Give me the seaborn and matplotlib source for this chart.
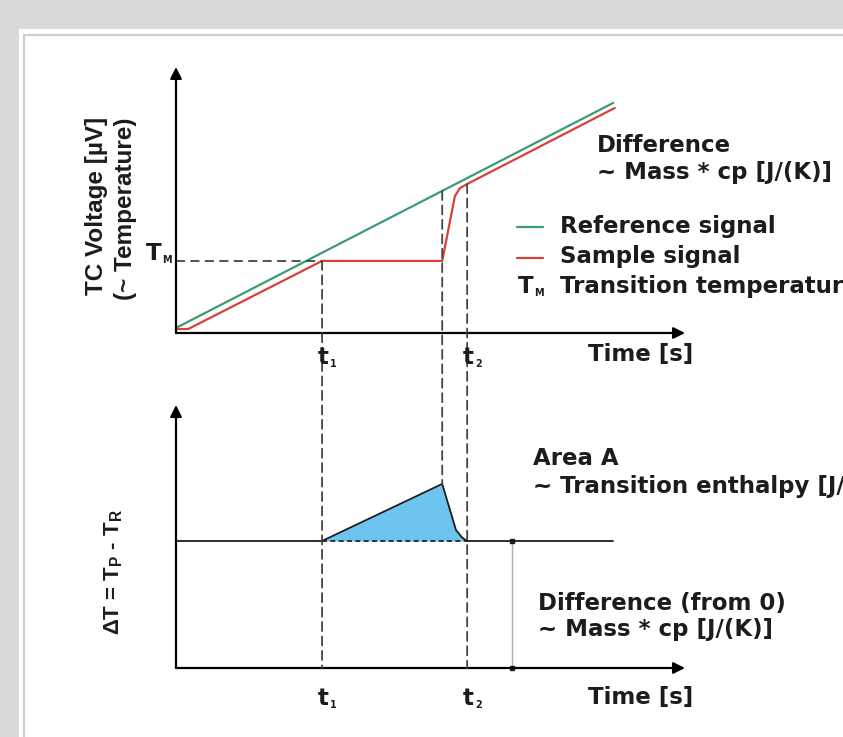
import numpy as np
import pandas as pd
import seaborn as sns
import matplotlib.pyplot as plt
from matplotlib.patches import Rectangle, ConnectionPatch
from matplotlib.lines import Line2D

# --- schematic data (time axis 0..100, signal axis 0..100) ---
ref_time = [0.0, 85.9]
ref_signal = [1.9, 86.5]
sample_time = [0.0, 2.4, 28.7, 52.3, 54.8, 55.8, 57.2, 86.2]
sample_signal = [1.5, 1.5, 27.1, 27.1, 51.5, 54.5, 56.0, 84.6]
T_M = 27.1
t1, t_peak, t2 = 28.7, 52.3, 57.2
ref_at_peak = 53.4
sample_at_t2 = 56.0

dT_time = [28.7, 52.3, 55.0, 56.2, 57.2]
dT_value = [48.3, 70.0, 52.5, 49.6, 48.3]
dT_base = 48.3
base_end = 85.9
diff_arrow_t = 66.0

GREEN = '#3b9b72'
RED = '#d8403a'
BLUE = '#6cc4ef'
INK = '#1c1c1c'
DASH = '#444444'

W, H = 843, 737


def fx(x):
    return x / W


def fy(y):
    return 1 - y / H


sns.set_style("white")
plt.rcParams['font.family'] = ['DejaVu Sans']
plt.rcParams['mathtext.fontset'] = 'custom'
plt.rcParams['mathtext.rm'] = 'Liberation Sans:bold'
plt.rcParams['mathtext.bf'] = 'Liberation Sans:bold'
plt.rcParams['mathtext.it'] = 'Liberation Sans:bold'

fig = plt.figure(figsize=(W / 100, H / 100), dpi=100)
fig.patch.set_facecolor('#d9d9d9')
fig.add_artist(Rectangle((fx(19), 0), 1, fy(29), transform=fig.transFigure,
                         facecolor='white', edgecolor='none', zorder=0))
fig.add_artist(Line2D([fx(23.5), 1], [fy(34.5), fy(34.5)], color='#cfcfcf', lw=1.6))
fig.add_artist(Line2D([fx(23.5), fx(23.5)], [fy(34.5), 0], color='#cfcfcf', lw=1.6))

ax1 = fig.add_axes([fx(176), fy(333), (685 - 176) / W, (333 - 67) / H])
ax2 = fig.add_axes([fx(176), fy(668), (685 - 176) / W, (668 - 405) / H])
for ax in (ax1, ax2):
    ax.set_xlim(0, 100)
    ax.set_ylim(0, 100)
    ax.axis('off')
    ax.patch.set_alpha(0)
    arrow = dict(arrowstyle='-|>', color='black', lw=1.6, mutation_scale=17,
                 shrinkA=0, shrinkB=0)
    ax.annotate('', xy=(100, 0), xytext=(0, 0), arrowprops=arrow, annotation_clip=False)
    ax.annotate('', xy=(0, 100), xytext=(0, 0), arrowprops=arrow, annotation_clip=False)

# top panel: signals
ref_df = pd.DataFrame({'t': ref_time, 'v': ref_signal})
smp_df = pd.DataFrame({'t': sample_time, 'v': sample_signal})
sns.lineplot(data=ref_df, x='t', y='v', ax=ax1, color=GREEN, lw=1.6, sort=False)
sns.lineplot(data=smp_df, x='t', y='v', ax=ax1, color=RED, lw=1.6, sort=False)
ax1.plot([0, t1], [T_M, T_M], ls=(0, (5, 3)), color=DASH, lw=1.3)
ax1.set_xlim(0, 100)
ax1.set_ylim(0, 100)
ax1.axis('off')

# dashed verticals across both panels
for (x, ytop, ybot) in [(t1, T_M, 0), (t_peak, ref_at_peak, dT_value[1]),
                        (t2, sample_at_t2, 0)]:
    con = ConnectionPatch(xyA=(x, ytop), coordsA=ax1.transData,
                          xyB=(x, ybot), coordsB=ax2.transData,
                          ls=(0, (5, 3)), color=DASH, lw=1.3)
    fig.add_artist(con)

# bottom panel: delta T
ax2.fill_between(dT_time, dT_base, dT_value, color=BLUE, lw=0)
ax2.plot(dT_time, dT_value, color=INK, lw=1.3)
ax2.plot([0, t1], [dT_base, dT_base], color=INK, lw=1.3)
ax2.plot([t1, t2], [dT_base, dT_base], color=INK, lw=1.2, ls=(0, (3, 2)))
ax2.plot([t2, base_end], [dT_base, dT_base], color=INK, lw=1.3)
ax2.plot([diff_arrow_t, diff_arrow_t], [0, dT_base], color='#b0b0b0', lw=1.0,
         marker='s', ms=3, mfc=INK, mec=INK, clip_on=False)

FS = 16.5
TK = dict(color=INK, fontweight='bold')


def txt(x, y, s, size=FS, **kw):
    fig.text(fx(x), fy(y), s, fontsize=size, va='baseline', ha='left', **TK, **kw)


def sub(x, y, main, s, size=FS):
    fig.text(fx(x), fy(y), main, fontsize=size, va='baseline', ha='right', **TK)
    fig.text(fx(x + 1), fy(y + 3), s, fontsize=size * 0.42, va='baseline', ha='left', **TK)


txt(597, 152, 'Difference')
txt(597, 179, '~ Mass * cp [J/(K)]')
fig.add_artist(Line2D([fx(517), fx(543)], [fy(227), fy(227)], color=GREEN, lw=1.6))
fig.add_artist(Line2D([fx(517), fx(543)], [fy(258), fy(258)], color=RED, lw=1.6))
txt(560, 233, 'Reference signal')
txt(560, 263, 'Sample signal')
sub(533, 293, 'T', 'M')
txt(560, 293, 'Transition temperature')
txt(588, 361, 'Time [s]')
sub(329, 364, 't', '1')
sub(474, 364, 't', '2')
sub(161, 260, 'T', 'M')

txt(533, 465, 'Area A')
txt(533, 493, '~ Transition enthalpy [J/g]')
txt(538, 610, 'Difference (from 0)')
txt(538, 636, '~ Mass * cp [J/(K)]')
txt(588, 704, 'Time [s]')
sub(329, 705, 't', '1')
sub(474, 705, 't', '2')

LAB = dict(family='Liberation Sans', rotation=90, ha='center', va='center', **TK)
fig.text(fx(97), fy(206), 'TC Voltage [µV]', fontsize=17.5, **LAB)
fig.text(fx(126), fy(209), '(~ Temperature)', fontsize=17.5, **LAB)
fig.text(fx(114), fy(572), r'ΔT = T$_\mathbf{P}$ - T$_\mathbf{R}$', fontsize=16, **LAB)

fig.savefig('out.png', dpi=100, facecolor=fig.get_facecolor())
